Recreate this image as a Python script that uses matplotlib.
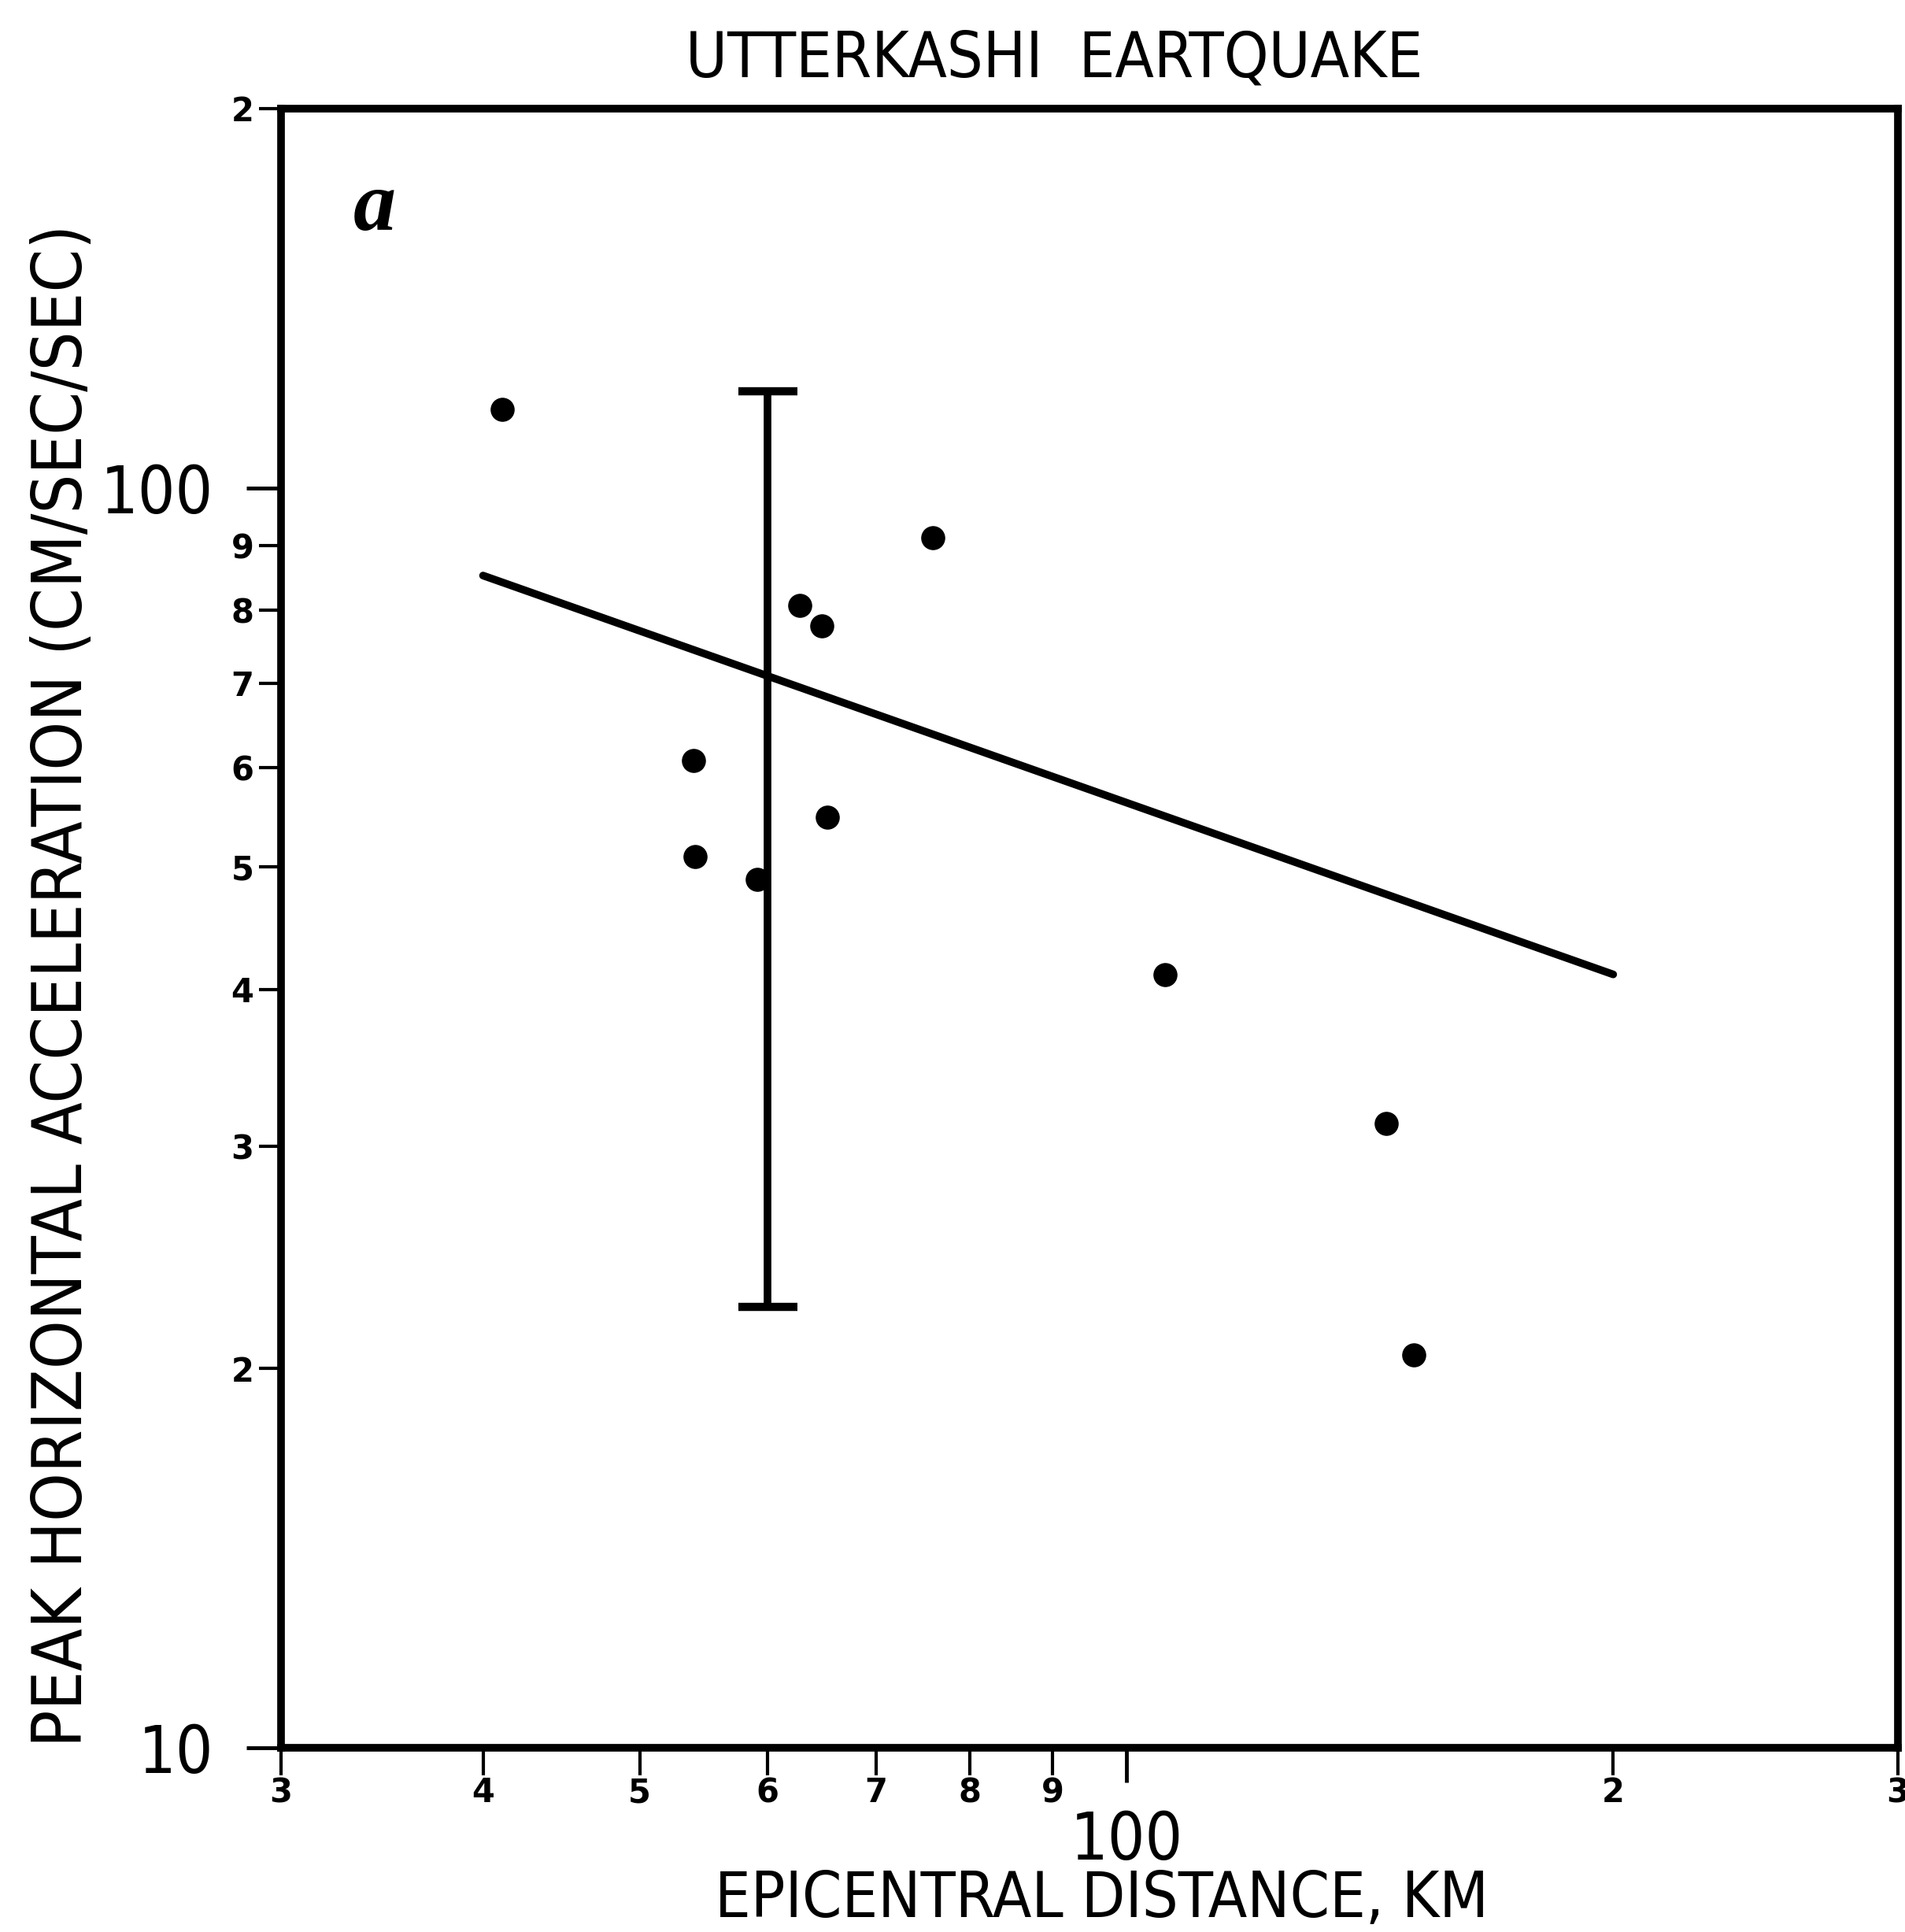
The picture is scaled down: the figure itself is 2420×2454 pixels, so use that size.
import matplotlib
matplotlib.use("Agg")
import matplotlib.pyplot as plt
from matplotlib.ticker import FixedLocator, FixedFormatter

# station observations (epicentral distance km, PGA cm/s/s)
dist_km = [41.1, 75.9, 62.8, 64.8, 54.0, 65.3, 54.1, 59.1, 105.6, 144.8, 150.6]
pga = [115.4, 91.3, 80.7, 77.7, 60.8, 54.8, 51.0, 48.9, 41.1, 31.3, 20.5]

# attenuation curve end points
fit_x = [40.0, 200.0]
fit_y = [85.2, 41.1]

# scatter band shown at 60 km
band_x = 60.0
band_lo = 22.4
band_hi = 119.4

x_major = [100]
x_major_labels = ["100"]
x_minor = [30, 40, 50, 60, 70, 80, 90, 200, 300]
x_minor_labels = ["3", "4", "5", "6", "7", "8", "9", "2", "3"]
y_major = [10, 100]
y_major_labels = ["10", "100"]
y_minor = [20, 30, 40, 50, 60, 70, 80, 90, 200]
y_minor_labels = ["2", "3", "4", "5", "6", "7", "8", "9", "2"]

# narrow lettering for titles and decade labels
NARROW = dict(family="DejaVu Sans", fontstretch="condensed")

fig = plt.figure(figsize=(24.2, 24.54), dpi=100)
ax = fig.add_axes([357 / 2420, 1 - 2220 / 2454, 2054 / 2420, 2082 / 2454])
ax.set_xscale("log")
ax.set_yscale("log")
ax.set_xlim(30, 300)
ax.set_ylim(10, 200)

ax.plot(dist_km, pga, "o", color="black", markersize=21, zorder=3)
ax.plot(fit_x, fit_y, color="black", lw=7, solid_capstyle="round")
ax.errorbar([band_x], [band_lo], yerr=[[0], [band_hi - band_lo]],
            fmt="none", ecolor="black", elinewidth=7, capsize=27, capthick=7.5)

for side in ("top", "right", "left", "bottom"):
    ax.spines[side].set_linewidth(7)

ax.xaxis.set_major_locator(FixedLocator(x_major))
ax.xaxis.set_major_formatter(FixedFormatter(x_major_labels))
ax.xaxis.set_minor_locator(FixedLocator(x_minor))
ax.xaxis.set_minor_formatter(FixedFormatter(x_minor_labels))
ax.yaxis.set_major_locator(FixedLocator(y_major))
ax.yaxis.set_major_formatter(FixedFormatter(y_major_labels))
ax.yaxis.set_minor_locator(FixedLocator(y_minor))
ax.yaxis.set_minor_formatter(FixedFormatter(y_minor_labels))

ax.tick_params(axis="both", which="both", direction="out", top=False, right=False, color="black")
ax.tick_params(axis="x", which="major", length=32, width=3.5, pad=24, labelsize=60)
ax.tick_params(axis="x", which="minor", length=25, width=3, pad=1, labelsize=30)
ax.tick_params(axis="y", which="major", length=32, width=3.5, pad=30, labelsize=60)
ax.tick_params(axis="y", which="minor", length=20, width=3, pad=5, labelsize=30)
for lab in ax.get_xticklabels(which="major") + ax.get_yticklabels(which="major"):
    lab.set_family(NARROW["family"])
    lab.set_fontstretch(NARROW["fontstretch"])
for lab in ax.get_xticklabels(which="minor") + ax.get_yticklabels(which="minor"):
    lab.set_fontweight("bold")

ax.text((476 - 357) / 2054, 1 - (266 - 138) / 2082, "a", transform=ax.transAxes,
        ha="center", va="center", fontsize=78, fontweight="bold", fontstyle="italic",
        family=["Liberation Serif", "DejaVu Serif"])

fig.text(1339 / 2420, 1 - 76 / 2454, "UTTERKASHI  EARTQUAKE", ha="center", va="center",
         fontsize=58, **NARROW)
fig.text(1400 / 2420, 1 - 2413 / 2454, "EPICENTRAL DISTANCE, KM", ha="center", va="center",
         fontsize=58, **NARROW)
fig.text(80 / 2420, 1 - 1252 / 2454, "PEAK HORIZONTAL ACCELERATION (CM/SEC/SEC)",
         rotation=90, ha="center", va="center", fontsize=63, **NARROW)

fig.savefig("out.png", dpi=100, facecolor="white")
